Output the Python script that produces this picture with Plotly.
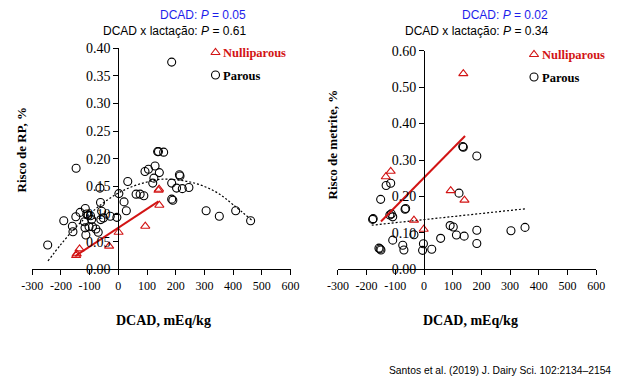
import plotly.graph_objects as go

W, H = 622, 383

# ---------------- data: Risco de RP ----------------
rp_parous_x = [-246, -147, -190, -160, -158, -148, -133, -115, -110, -118, -116, -113, -97, -105, -93, -90,
               -102, -78, -70, -64, -62, -58, -52, -61, -28, -5, 2, 20, 28, 33, 62, 76, 89, 93, 105, 120,
               124, 128, 143, 137, 140, 158, 186, 186, 186, 190, 213, 215, 203, 223, 246, 306, 352, 409, 461]
rp_parous_y = [0.044, 0.183, 0.088, 0.078, 0.068, 0.095, 0.103, 0.110, 0.100, 0.086, 0.075, 0.062, 0.097, 0.098, 0.090, 0.077,
               0.077, 0.073, 0.067, 0.147, 0.121, 0.105, 0.093, 0.090, 0.096, 0.094, 0.137, 0.122, 0.106, 0.159, 0.136, 0.136, 0.133, 0.177, 0.181, 0.156,
               0.165, 0.187, 0.175, 0.213, 0.213, 0.212, 0.375, 0.156, 0.127, 0.125, 0.171, 0.169, 0.147, 0.146, 0.148, 0.106, 0.096, 0.106, 0.088]
rp_nulli_x = [-147, -145, -135, -32, 1, 94, 143, 140, 142]
rp_nulli_y = [0.025, 0.028, 0.037, 0.042, 0.067, 0.078, 0.116, 0.143, 0.145]
rp_nulli_fit_x = [-150, 140]
rp_nulli_fit_y = [0.024, 0.123]
rp_trend_x = [-245, -200, -150, -100, -50, 0, 50, 100, 150, 200, 250, 300, 350, 400, 465]
rp_trend_y = [0.015, 0.045, 0.075, 0.100, 0.121, 0.138, 0.150, 0.158, 0.163, 0.162, 0.158, 0.150, 0.137, 0.117, 0.089]

# ---------------- data: Risco de metrite ----------------
met_parous_x = [-179, -177, -151, -132, -116, -119, -114, -109, -66, -64, -109, -74, -70, -35, -2, -5, 27,
                -157, -153, -150, 58, 91, 102, 113, 140, 184, 184, 303, 352, 122, 135, 137, 184]
met_parous_y = [0.137, 0.139, 0.192, 0.230, 0.236, 0.149, 0.152, 0.144, 0.165, 0.167, 0.080, 0.066, 0.053, 0.095, 0.070, 0.052, 0.055,
                0.058, 0.056, 0.053, 0.085, 0.120, 0.116, 0.094, 0.091, 0.107, 0.071, 0.106, 0.115, 0.209, 0.337, 0.335, 0.311]
met_nulli_x = [-133, -116, -35, -1, 93, 141, 137]
met_nulli_y = [0.254, 0.269, 0.135, 0.110, 0.216, 0.190, 0.537]
met_nulli_fit_x = [-150, 143]
met_nulli_fit_y = [0.131, 0.366]
met_trend_x = [-182, 352]
met_trend_y = [0.121, 0.166]

x_ticks = [-300, -200, -100, 0, 100, 200, 300, 400, 500, 600]
rp_y_ticks = [0.00, 0.05, 0.10, 0.15, 0.20, 0.25, 0.30, 0.35, 0.40]
met_y_ticks = [0.00, 0.10, 0.20, 0.30, 0.40, 0.50, 0.60]

legend_labels = ["Nulliparous", "Parous"]
rp_titles = ["DCAD: <i>P</i> = 0.05", "DCAD x lactação: <i>P</i> = 0.61"]
met_titles = ["DCAD: <i>P</i> = 0.02", "DCAD x lactação: <i>P</i> = 0.34"]
x_title = "DCAD, mEq/kg"
rp_y_title = "Risco de RP, %"
met_y_title = "Risco de metrite, %"
citation = "Santos et al. (2019) J. Dairy Sci. 102:2134–2154"

RED = "rgb(210,20,20)"
BLUE = "rgb(30,30,235)"
SERIF = "Liberation Serif, Times New Roman, serif"
SANS = "Liberation Sans, Arial, sans-serif"

def px(x):
    return x / W

def py(y):
    return 1 - y / H

fig = go.Figure()

circle = dict(symbol="circle-open", size=8, color="black", line=dict(width=1.1, color="black"))
tri = dict(symbol="triangle-up-open", size=8, color=RED, line=dict(width=1.1, color=RED))
dotted = dict(color="black", width=1.2, dash="2px,2px")

# left panel
fig.add_trace(go.Scatter(x=rp_trend_x, y=rp_trend_y, mode="lines", line=dict(dotted, shape="spline"), xaxis="x", yaxis="y", cliponaxis=False))
fig.add_trace(go.Scatter(x=rp_parous_x, y=rp_parous_y, mode="markers", marker=circle, xaxis="x", yaxis="y", cliponaxis=False))
fig.add_trace(go.Scatter(x=rp_nulli_fit_x, y=rp_nulli_fit_y, mode="lines", line=dict(color=RED, width=2), xaxis="x", yaxis="y"))
fig.add_trace(go.Scatter(x=rp_nulli_x, y=rp_nulli_y, mode="markers", marker=tri, xaxis="x", yaxis="y", cliponaxis=False))

# right panel
fig.add_trace(go.Scatter(x=met_trend_x, y=met_trend_y, mode="lines", line=dotted, xaxis="x2", yaxis="y2"))
fig.add_trace(go.Scatter(x=met_parous_x, y=met_parous_y, mode="markers", marker=circle, xaxis="x2", yaxis="y2", cliponaxis=False))
fig.add_trace(go.Scatter(x=met_nulli_fit_x, y=met_nulli_fit_y, mode="lines", line=dict(color=RED, width=2), xaxis="x2", yaxis="y2"))
fig.add_trace(go.Scatter(x=met_nulli_x, y=met_nulli_y, mode="markers", marker=tri, xaxis="x2", yaxis="y2", cliponaxis=False))

# legend symbols on an overlay pixel axis
fig.add_trace(go.Scatter(x=[215.5, 534], y=[52.5, 54.5], mode="markers", marker=tri, xaxis="x3", yaxis="y3", cliponaxis=False))
fig.add_trace(go.Scatter(x=[215.5, 534], y=[75, 77], mode="markers", marker=circle, xaxis="x3", yaxis="y3", cliponaxis=False))

def xaxis_cfg(d0, d1, anchor):
    return dict(domain=[d0, d1], range=[-300, 600], anchor=anchor, showline=True, linecolor="black", linewidth=1,
                ticks="outside", ticklen=5, tickcolor="black", tickvals=x_ticks, ticktext=[str(v) for v in x_ticks],
                tickfont=dict(family=SERIF, size=12, color="black"), showgrid=False, zeroline=False, automargin=False)

def yaxis_cfg(d0, d1, rng, ticks, pos):
    return dict(domain=[d0, d1], range=rng, anchor="free", position=pos, showline=True, linecolor="black", linewidth=1,
                ticks="outside", ticklen=5, tickcolor="black", tickvals=ticks, ticktext=[f"{v:.2f}" for v in ticks],
                tickfont=dict(family=SERIF, size=14, color="black"), showgrid=False, zeroline=False, automargin=False)

x0_left, x1_left = 32.2, 290.5
x0_right, x1_right = 337.9, 596.2
y0_pix = 269.3

fig.update_layout(
    width=W, height=H, margin=dict(l=0, r=0, t=0, b=0),
    font=dict(family=SERIF, color="black"),
    paper_bgcolor="white", plot_bgcolor="rgba(0,0,0,0)", showlegend=False,
    xaxis=xaxis_cfg(px(x0_left), px(x1_left), "y"),
    yaxis=yaxis_cfg(py(y0_pix), py(48.3), [0, 0.40], rp_y_ticks, px(x0_left + (x1_left - x0_left) / 3)),
    xaxis2=xaxis_cfg(px(x0_right), px(x1_right), "y2"),
    yaxis2=yaxis_cfg(py(y0_pix), py(50.7), [0, 0.60], met_y_ticks, px(x0_right + (x1_right - x0_right) / 3)),
    xaxis3=dict(domain=[0, 1], range=[0, W], visible=False, anchor="y3"),
    yaxis3=dict(domain=[0, 1], range=[H, 0], visible=False, anchor="x3"),
)

ann = []
def add_text(text, x, y, size, family, color, xanchor="center", bold=False, angle=0):
    t = f"<b>{text}</b>" if bold else text
    ann.append(dict(text=t, x=px(x), y=py(y), xref="paper", yref="paper", xanchor=xanchor, yanchor="middle",
                    showarrow=False, textangle=angle, borderpad=0, font=dict(family=family, size=size, color=color)))

# panel titles
add_text(rp_titles[0], 247, 15, 12, SANS, BLUE, xanchor="right")
add_text(rp_titles[1], 247, 30.5, 12, SANS, "black", xanchor="right")
add_text(met_titles[0], 549, 15, 12, SANS, BLUE, xanchor="right")
add_text(met_titles[1], 549, 30.5, 12, SANS, "black", xanchor="right")

# legends
add_text(legend_labels[0], 221.5, 53, 12.5, SERIF, RED, xanchor="left", bold=True)
add_text(legend_labels[1], 221.5, 75.5, 12.5, SERIF, "black", xanchor="left", bold=True)
add_text(legend_labels[0], 540.5, 55, 12.5, SERIF, RED, xanchor="left", bold=True)
add_text(legend_labels[1], 540.5, 77.5, 12.5, SERIF, "black", xanchor="left", bold=True)

# axis titles
add_text(rp_y_title, 21.5, 150, 13, SERIF, "black", bold=True, angle=-90)
add_text(met_y_title, 331.5, 144, 13, SERIF, "black", bold=True, angle=-90)
add_text(x_title, 163, 320, 14, SERIF, "black", bold=True)
add_text(x_title, 470, 320, 14, SERIF, "black", bold=True)

# citation
add_text(citation, 612, 370, 10.3, SANS, "black", xanchor="right")

fig.update_layout(annotations=ann)

fig.write_html("out.html", config={"displayModeBar": False},
               post_script="document.body.style.margin='0px';document.body.style.padding='0px';")
